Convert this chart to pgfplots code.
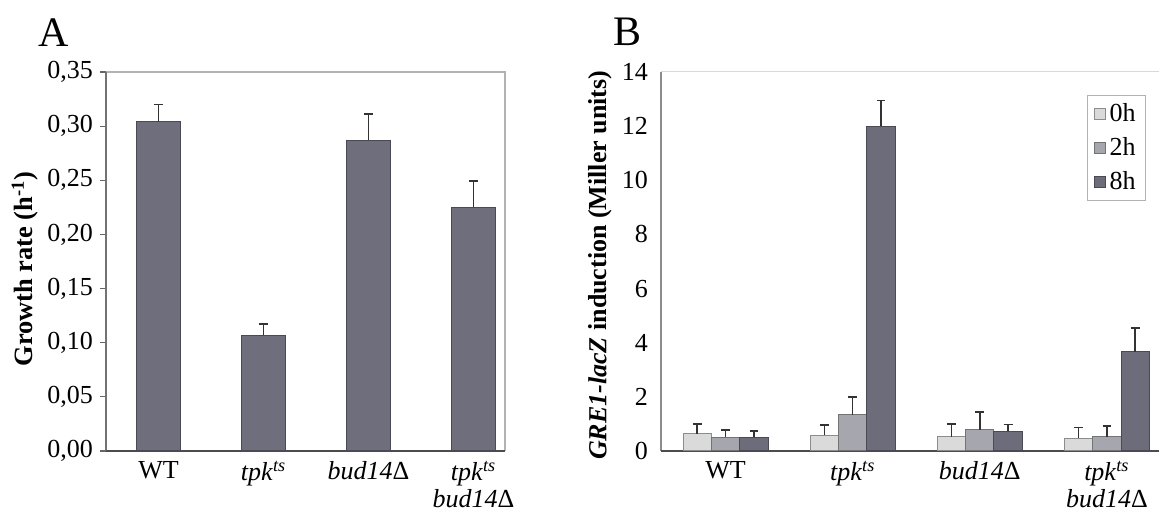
\documentclass[border=0pt]{standalone}
\usepackage{fontspec}
\setmainfont{Liberation Serif}
\usepackage{pgfplots}
\pgfplotsset{compat=1.18}
\definecolor{barA}{HTML}{6E6E7C}
\definecolor{h0}{HTML}{DADADA}
\definecolor{h2}{HTML}{A6A6AE}
\definecolor{h8}{HTML}{6C6C7A}
\definecolor{edge}{HTML}{4A4A55}

\pgfplotsset{
  panel/.style={
    scale only axis, anchor=south west,
    height=189.5pt,
    ymin=0, xtick={0,1,2,3},
    xticklabels={WT, \textit{tpk}\textsuperscript{\textit{ts}}, \textit{bud14}Δ, \textit{tpk}\textsuperscript{\textit{ts}}\\\textit{bud14}Δ},
    xticklabel style={font=\fontsize{13}{13.5}\selectfont, align=center, yshift=0pt, inner ysep=2pt},
    yticklabel style={font=\fontsize{13}{14}\selectfont},
    /pgf/number format/assume math mode=true,
    x tick style={draw=none},
    ytick pos=left,
    tick align=outside, major tick length=3pt,
    axis line style={draw=none},
    clip=false,
  },
  errs/.style={
    error bars/.cd, y dir=plus, y explicit,
    error bar style={line width=0.8pt, color=black!80},
    error mark options={rotate=90, mark size=2.2pt, line width=0.9pt, color=black!80},
  },
}

\begin{document}
\begin{tikzpicture}
\path[use as bounding box] (0,0) rectangle (580pt,256.5pt);

\node[font=\fontsize{21}{22}\selectfont] at (27pt,240pt) {A};
\node[font=\fontsize{21}{22}\selectfont] at (313.5pt,240.5pt) {B};

% ---- panel A: growth rate
\begin{axis}[panel, at={(53pt,31pt)},
  width=199.5pt,
  xmin=-0.5, xmax=3.3, ymax=0.35,
  ytick={0,0.05,...,0.35},
  yticklabel style={/pgf/number format/.cd, fixed, fixed zerofill, precision=2, use comma},
  y tick style={color=black!60, line width=0.6pt},
  ylabel={Growth rate (h\textsuperscript{-1})},
  every axis y label/.style={at={(axis description cs:-0.203,0.48)}, rotate=90, anchor=center,
    font=\fontsize{13.2}{14}\selectfont\bfseries},
]
\draw[black!30, line width=0.7pt] (rel axis cs:0,1) -- (rel axis cs:1,1) -- (rel axis cs:1,0);
\draw[black!55, line width=0.8pt] (rel axis cs:0,1) -- (rel axis cs:0,0);
\draw[black!70, line width=0.8pt] (rel axis cs:0,0) -- (rel axis cs:1,0);
\addplot[ybar, bar width=0.41, fill=barA, draw=edge, line width=0.5pt, errs]
  coordinates {
    (0,0.304) +- (0,0.016)
    (1,0.107) +- (0,0.0105)
    (2,0.287) +- (0,0.024)
    (3,0.225) +- (0,0.0245)
  };
\end{axis}

% ---- panel B: GRE1-lacZ induction
\begin{axis}[panel, at={(330.5pt,31pt)},
  width=249pt,
  xmin=-0.508, xmax=3.41, ymax=14,
  ytick={0,2,...,14},
  y tick style={draw=none},
  ybar=0pt, bar width=0.223,
  ylabel={\textit{GRE1-lacZ} induction (Miller units)},
  every axis y label/.style={at={(axis description cs:-0.1225,0.49)}, rotate=90, anchor=center,
    font=\fontsize{13}{14}\selectfont\bfseries},
  legend style={at={(rel axis cs:0.974,0.939)}, anchor=north east,
    draw=black!30, line width=0.5pt, font=\fontsize{13}{14}\selectfont,
    row sep=2.5pt, inner xsep=3pt, inner ysep=2pt},
  legend cell align=left,
  legend image code/.code={\draw[#1, line width=0.4pt] (0pt,-2.8pt) rectangle (5.6pt,2.8pt);},
]
\draw[black!15, line width=0.5pt] (rel axis cs:0,1) -- (rel axis cs:1,1);
\draw[black!45, line width=1.2pt] (rel axis cs:0,1) -- (rel axis cs:0,0);
\draw[black!70, line width=0.8pt] (rel axis cs:0,0) -- (rel axis cs:1,0);
\addplot[fill=h0, draw=black!45, line width=0.5pt, errs]
  coordinates {
    (0,0.63) +- (0,0.38)
    (1,0.59) +- (0,0.37)
    (2,0.52) +- (0,0.49)
    (3,0.48) +- (0,0.39)
  };
\addlegendentry{0h}
\addplot[fill=h2, draw=black!55, line width=0.5pt, errs]
  coordinates {
    (0,0.51) +- (0,0.28)
    (1,1.34) +- (0,0.65)
    (2,0.79) +- (0,0.65)
    (3,0.52) +- (0,0.40)
  };
\addlegendentry{2h}
\addplot[fill=h8, draw=edge, line width=0.5pt, errs]
  coordinates {
    (0,0.51) +- (0,0.22)
    (1,12.0) +- (0,0.95)
    (2,0.73) +- (0,0.25)
    (3,3.66) +- (0,0.89)
  };
\addlegendentry{8h}
\end{axis}
\end{tikzpicture}
\end{document}
